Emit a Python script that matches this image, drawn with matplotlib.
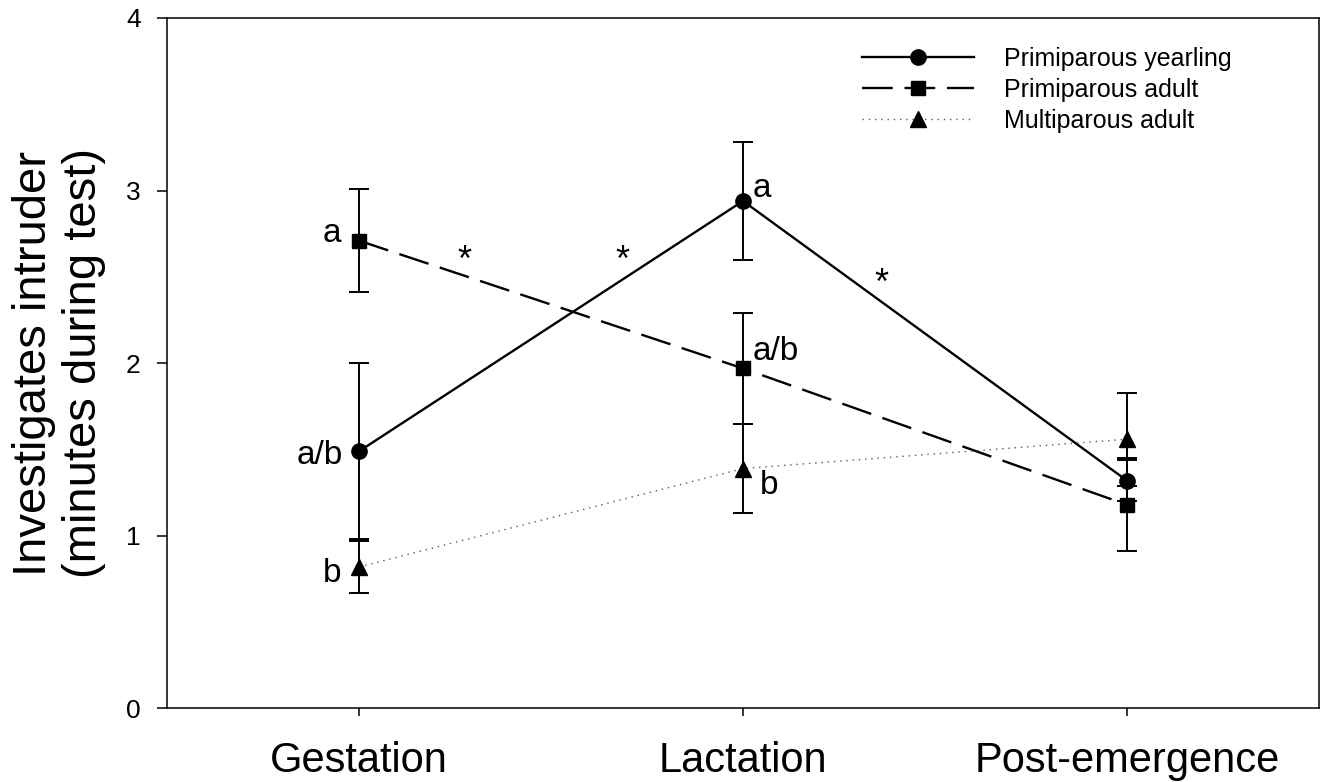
import matplotlib.pyplot as plt
import numpy as np

plt.rcParams['font.family'] = ['Liberation Sans', 'DejaVu Sans']

# data (means and standard errors, minutes)
periods = ['Gestation', 'Lactation', 'Post-emergence']
yearling = [1.49, 2.94, 1.32]
yearling_se = [0.51, 0.34, 0.12]
prim_adult = [2.71, 1.97, 1.18]
prim_adult_se = [0.30, 0.32, 0.27]
multi_adult = [0.82, 1.39, 1.56]
multi_adult_se = [0.15, 0.26, 0.27]

# significance letters per group (gestation, lactation)
yearling_letters = ['a/b', 'a']
prim_adult_letters = ['a', 'a/b']
multi_adult_letters = ['b', 'b']

fig = plt.figure(figsize=(13.28, 7.82), dpi=100)
ax = fig.add_axes([0.1258, 0.0940, 0.8674, 0.8830])
x = np.arange(len(periods))

# error bars first so markers sit on top
for vals, se in [(yearling, yearling_se), (prim_adult, prim_adult_se), (multi_adult, multi_adult_se)]:
    ax.errorbar(x, vals, yerr=se, fmt='none', ecolor='black', elinewidth=1.4,
                capsize=7, capthick=1.4, zorder=2)

ax.plot(x, yearling, color='black', lw=1.7, marker='o', ms=11,
        label='Primiparous yearling', zorder=3)
ax.plot(x, prim_adult, color='black', lw=1.7, ls=(0, (13, 5)), marker='s', ms=10,
        label='Primiparous adult', zorder=3)
ax.plot(x, multi_adult, color='0.35', lw=1.0, ls=(0, (1, 3.5)), marker='^', ms=11,
        mfc='black', mec='black', label='Multiparous adult', zorder=3)

# letters, placed relative to their points (offsets in points)
lf = 24
ax.annotate(prim_adult_letters[0], (x[0], prim_adult[0]), xytext=(-13, -1),
            textcoords='offset points', ha='right', va='baseline', fontsize=lf)
ax.annotate(yearling_letters[0], (x[0], yearling[0]), xytext=(-12, -9),
            textcoords='offset points', ha='right', va='baseline', fontsize=lf)
ax.annotate(multi_adult_letters[0], (x[0], multi_adult[0]), xytext=(-13, -11),
            textcoords='offset points', ha='right', va='baseline', fontsize=lf)
ax.annotate(yearling_letters[1], (x[1], yearling[1]), xytext=(7, 2.7),
            textcoords='offset points', ha='left', va='baseline', fontsize=lf)
ax.annotate(prim_adult_letters[1], (x[1], prim_adult[1]), xytext=(7, 6),
            textcoords='offset points', ha='left', va='baseline', fontsize=lf)
ax.annotate(multi_adult_letters[1], (x[1], multi_adult[1]), xytext=(12, -18),
            textcoords='offset points', ha='left', va='baseline', fontsize=lf)

# asterisks between periods
ax.text(0.274, 2.537, '*', ha='center', va='baseline', fontsize=26)
ax.text(0.686, 2.537, '*', ha='center', va='baseline', fontsize=26)
ax.text(1.361, 2.402, '*', ha='center', va='baseline', fontsize=26)

ax.set_xlim(-0.5, 2.5)
ax.set_ylim(0, 4)
ax.set_xticks(x)
ax.set_xticklabels(periods, fontsize=30)
ax.set_yticks([0, 1, 2, 3, 4])
ax.tick_params(axis='y', labelsize=19, length=7, width=1.1, pad=12, direction='out')
ax.tick_params(axis='x', length=5.5, width=1.1, pad=18, direction='out')
for s in ax.spines.values():
    s.set_linewidth(1.1)

ax.set_ylabel('Investigates intruder\n(minutes during test)', fontsize=34, labelpad=14)

ax.legend(loc='upper left', bbox_to_anchor=(0.603, 0.958), frameon=False, fontsize=18,
          handlelength=4.5, handletextpad=1.2, labelspacing=0.28, borderpad=0, borderaxespad=0)

fig.savefig('out.png', dpi=100)
